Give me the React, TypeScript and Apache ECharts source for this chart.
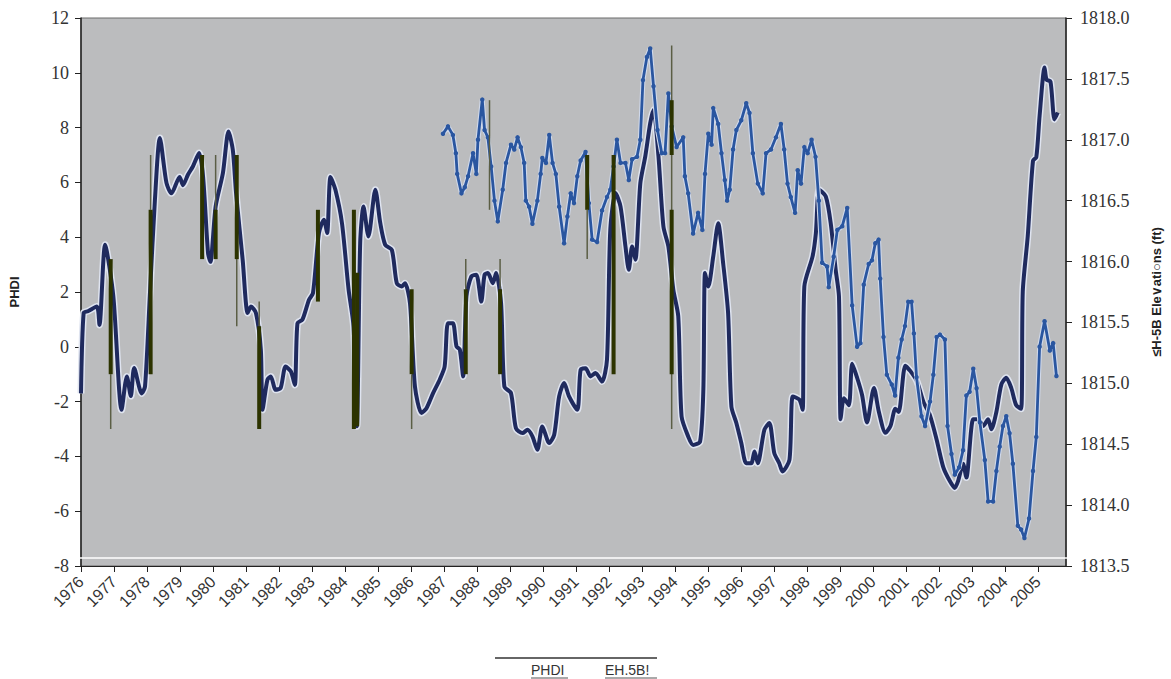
import React, { useEffect, useRef } from "react";
import * as echarts from "echarts";

// PHDI (left axis) — [fractional year, PHDI]
const phdiData: [number, number][] = [
  [1976.0, -1.7], [1976.08, 1.24], [1976.21, 1.3], [1976.48, 1.47], [1976.56, 0.8], [1976.73, 3.72],
  [1976.98, 1.84], [1977.23, -2.3], [1977.39, -1.08], [1977.51, -1.8], [1977.61, -0.77], [1977.84, -1.7],
  [1977.94, -1.45], [1978.09, 1.97], [1978.24, 5.36], [1978.39, 7.62], [1978.59, 5.98], [1978.74, 5.6],
  [1978.99, 6.2], [1979.09, 5.9], [1979.24, 6.28], [1979.39, 6.58], [1979.58, 7.07], [1979.7, 6.2],
  [1979.85, 3.42], [1979.92, 3.1], [1980.08, 5.12], [1980.3, 6.34], [1980.47, 7.86], [1980.6, 7.19],
  [1980.7, 5.6], [1980.9, 3.17], [1981.05, 1.23], [1981.15, 1.47], [1981.3, 1.24], [1981.45, -0.1],
  [1981.5, -2.3], [1981.65, -1.2], [1981.75, -1.08], [1981.9, -1.57], [1982.05, -1.5], [1982.2, -0.72],
  [1982.36, -0.9], [1982.48, -1.39], [1982.56, 0.86], [1982.71, 0.99], [1982.91, 1.72], [1983.03, 1.96],
  [1983.21, 4.15], [1983.36, 4.64], [1983.46, 4.15], [1983.56, 6.2], [1983.71, 5.73], [1983.91, 4.5],
  [1984.11, 2.08], [1984.26, 0.74], [1984.36, -2.9], [1984.46, 3.78], [1984.56, 5.12], [1984.71, 4.03],
  [1984.92, 5.73], [1985.07, 4.51], [1985.22, 3.72], [1985.42, 3.54], [1985.57, 2.32], [1985.72, 2.2],
  [1985.82, 2.32], [1985.97, 1.59], [1986.12, -1.45], [1986.32, -2.42], [1986.47, -2.24], [1986.67, -1.69],
  [1986.87, -1.2], [1987.02, -0.72], [1987.12, 0.86], [1987.27, 0.86], [1987.38, 0.01], [1987.48, -0.1],
  [1987.58, -1.08], [1987.68, 1.84], [1987.83, 2.57], [1987.98, 2.63], [1988.13, 1.65], [1988.23, 2.63],
  [1988.33, 2.69], [1988.48, 2.32], [1988.58, 2.69], [1988.73, 1.59], [1988.83, -1.45], [1989.03, -1.69],
  [1989.18, -2.97], [1989.38, -3.15], [1989.53, -3.03], [1989.68, -3.27], [1989.83, -3.76], [1989.98, -2.91],
  [1990.19, -3.51], [1990.34, -3.21], [1990.49, -1.81], [1990.64, -1.32], [1990.79, -1.81], [1991.04, -2.3],
  [1991.14, -0.84], [1991.29, -0.78], [1991.44, -1.08], [1991.59, -0.96], [1991.79, -1.27], [1991.94, -0.47],
  [1992.04, 4.27], [1992.2, 5.61], [1992.35, 5.12], [1992.5, 3.66], [1992.6, 2.81], [1992.7, 3.66],
  [1992.8, 3.18], [1992.95, 5.97], [1993.1, 6.95], [1993.25, 8.16], [1993.35, 8.65], [1993.5, 6.95],
  [1993.65, 4.39], [1993.8, 3.66], [1993.95, 2.08], [1994.1, 1.11], [1994.2, -2.54], [1994.4, -3.27],
  [1994.55, -3.58], [1994.76, -3.46], [1994.86, -1.57], [1994.91, 2.69], [1995.01, 2.2], [1995.16, 3.3],
  [1995.31, 4.51], [1995.46, 3.05], [1995.61, 1.23], [1995.71, -2.18], [1995.86, -2.78], [1996.01, -3.51],
  [1996.16, -4.25], [1996.31, -4.25], [1996.41, -3.82], [1996.51, -4.25], [1996.71, -3.03], [1996.86, -2.78],
  [1997.01, -3.88], [1997.16, -4.25], [1997.26, -4.55], [1997.47, -4.12], [1997.57, -1.81], [1997.77, -1.93],
  [1997.87, -2.3], [1997.92, 2.2], [1998.17, 3.3], [1998.27, 4.15], [1998.37, 5.73], [1998.57, 5.49],
  [1998.72, 4.51], [1998.87, 2.81], [1998.97, 1.84], [1999.02, -2.64], [1999.12, -1.88], [1999.27, -2.13],
  [1999.37, -0.62], [1999.52, -1.13], [1999.67, -1.76], [1999.82, -2.76], [2000.03, -1.5], [2000.18, -2.38],
  [2000.38, -3.14], [2000.53, -2.89], [2000.68, -2.26], [2000.78, -2.38], [2000.98, -0.69], [2001.13, -0.88],
  [2001.33, -1.25], [2001.53, -2.01], [2001.73, -2.51], [2001.93, -3.39], [2002.13, -4.39], [2002.33, -4.9],
  [2002.48, -5.15], [2002.58, -4.9], [2002.73, -4.27], [2002.83, -4.77], [2003.04, -2.64], [2003.19, -2.64],
  [2003.34, -2.89], [2003.49, -2.64], [2003.59, -3.01], [2003.74, -2.38], [2003.89, -1.38], [2004.04, -1.13],
  [2004.19, -1.5], [2004.34, -2.13], [2004.49, -2.26], [2004.54, 2.02], [2004.69, 4.03], [2004.85, 6.79],
  [2004.95, 6.92], [2005.05, 8.43], [2005.2, 10.19], [2005.26, 9.75], [2005.38, 9.68], [2005.5, 8.3],
  [2005.6, 8.55],
];

// EH-5B elevation (right axis, ft) — [fractional year, elevation]
const elevData: [number, number][] = [
  [1986.97, 1817.05], [1987.12, 1817.11], [1987.27, 1817.04], [1987.36, 1816.89], [1987.4, 1816.72],
  [1987.53, 1816.56], [1987.63, 1816.61], [1987.73, 1816.7], [1987.88, 1816.89], [1987.98, 1816.72],
  [1988.03, 1817.0], [1988.16, 1817.33], [1988.23, 1817.08], [1988.33, 1817.02], [1988.43, 1816.78],
  [1988.53, 1816.5], [1988.63, 1816.33], [1988.78, 1816.59], [1988.88, 1816.81], [1989.03, 1816.96],
  [1989.13, 1816.92], [1989.23, 1817.02], [1989.33, 1816.94], [1989.43, 1816.81], [1989.48, 1816.5],
  [1989.58, 1816.45], [1989.68, 1816.31], [1989.83, 1816.5], [1989.93, 1816.72], [1989.98, 1816.85],
  [1990.09, 1816.81], [1990.19, 1817.04], [1990.29, 1816.81], [1990.39, 1816.72], [1990.49, 1816.45],
  [1990.64, 1816.15], [1990.74, 1816.37], [1990.84, 1816.56], [1990.94, 1816.48], [1991.04, 1816.7],
  [1991.14, 1816.83], [1991.29, 1816.9], [1991.39, 1816.48], [1991.49, 1816.18], [1991.64, 1816.16],
  [1991.79, 1816.42], [1991.94, 1816.53], [1992.04, 1816.59], [1992.14, 1816.78], [1992.24, 1817.0],
  [1992.35, 1816.81], [1992.5, 1816.81], [1992.6, 1816.67], [1992.7, 1816.84], [1992.85, 1816.86],
  [1992.95, 1817.0], [1993.03, 1817.49], [1993.15, 1817.68], [1993.25, 1817.75], [1993.35, 1817.44],
  [1993.47, 1817.08], [1993.6, 1816.89], [1993.7, 1816.89], [1993.8, 1817.38], [1993.9, 1817.11],
  [1994.05, 1816.94], [1994.25, 1817.02], [1994.3, 1816.7], [1994.4, 1816.56], [1994.55, 1816.23],
  [1994.7, 1816.4], [1994.83, 1816.26], [1994.91, 1816.72], [1995.01, 1817.05], [1995.11, 1816.96],
  [1995.16, 1817.26], [1995.31, 1817.13], [1995.41, 1816.89], [1995.51, 1816.67], [1995.58, 1816.5],
  [1995.66, 1816.59], [1995.76, 1816.92], [1995.86, 1817.08], [1996.01, 1817.16], [1996.16, 1817.3],
  [1996.26, 1817.22], [1996.36, 1816.89], [1996.51, 1816.64], [1996.66, 1816.56], [1996.76, 1816.89],
  [1996.91, 1816.92], [1997.06, 1817.02], [1997.21, 1817.13], [1997.31, 1816.92], [1997.41, 1816.64],
  [1997.51, 1816.53], [1997.64, 1816.4], [1997.72, 1816.75], [1997.82, 1816.64], [1997.92, 1816.94],
  [1998.02, 1816.89], [1998.14, 1817.0], [1998.26, 1816.86], [1998.36, 1816.5], [1998.46, 1815.99],
  [1998.61, 1815.96], [1998.66, 1815.79], [1998.81, 1816.04], [1998.92, 1816.26], [1999.07, 1816.29],
  [1999.22, 1816.44], [1999.37, 1815.64], [1999.52, 1815.3], [1999.62, 1815.33], [1999.72, 1815.81],
  [1999.87, 1815.98], [1999.97, 1816.01], [2000.07, 1816.15], [2000.17, 1816.18], [2000.22, 1815.86],
  [2000.32, 1815.38], [2000.42, 1815.07], [2000.57, 1814.99], [2000.67, 1814.9], [2000.77, 1815.21],
  [2000.87, 1815.36], [2000.97, 1815.47], [2001.07, 1815.67], [2001.17, 1815.67], [2001.24, 1815.41],
  [2001.32, 1815.05], [2001.47, 1814.73], [2001.58, 1814.65], [2001.73, 1814.85], [2001.83, 1815.07],
  [2001.93, 1815.38], [2002.03, 1815.4], [2002.18, 1815.36], [2002.26, 1814.65], [2002.38, 1814.42],
  [2002.48, 1814.25], [2002.61, 1814.31], [2002.73, 1814.45], [2002.83, 1814.9], [2002.93, 1814.93],
  [2003.04, 1815.12], [2003.14, 1814.96], [2003.24, 1814.68], [2003.39, 1814.37], [2003.49, 1814.03],
  [2003.64, 1814.03], [2003.74, 1814.28], [2003.84, 1814.48], [2003.94, 1814.65], [2004.04, 1814.73],
  [2004.14, 1814.59], [2004.24, 1814.34], [2004.39, 1813.83], [2004.49, 1813.8], [2004.59, 1813.73],
  [2004.73, 1813.89], [2004.85, 1814.28], [2004.95, 1814.56], [2005.05, 1815.3], [2005.2, 1815.51],
  [2005.36, 1815.27], [2005.46, 1815.33], [2005.56, 1815.06],
];

// Vertical event markers (PHDI scale) — [year, low, high]
const thinMarks: [number, number, number][] = [
  [1976.9, -3, -1], [1978.11, 5, 7], [1980.08, 5, 7], [1980.72, 0.75, 3.2], [1981.4, 0.75, 1.65],
  [1986.02, -3, -1], [1987.66, 2.1, 3.2], [1988.7, 2.1, 3.2], [1988.38, 5, 9], [1991.34, 3.2, 5],
  [1993.9, -3, 11],
];
const thickMarks: [number, number, number][] = [
  [1976.9, -1, 3.2], [1978.11, -1, 5], [1979.67, 3.2, 7], [1980.08, 3.2, 5], [1980.72, 3.2, 7],
  [1981.4, -3, 0.75], [1983.18, 1.65, 5], [1984.27, -3, 5], [1984.37, -2.9, 2.7], [1986.02, -1, 2.1],
  [1987.66, -1, 2.1], [1988.7, -1, 2.1], [1991.34, 5, 7], [1992.14, -1, 7], [1993.9, 7, 9], [1993.9, -1, 5],
];

const xMin = 1976;
const xMax = 2005.85;
const leftTicks = { min: -8, max: 12, interval: 2 };
const rightTicks = { min: 1813.5, max: 1818, interval: 0.5 };
const legendNames = ["PHDI", "EH.5B!"];
const leftTitle = "PHDI";
const rightTitle = "≤H-5B Ele∨ati○ns (ft)";

const GRID = { left: 79, right: 101, top: 18, bottom: 113 };
const W = 1171;
const H = 679;

function segRenderer(color: string, width: number) {
  return (params: any, api: any) => {
    const x = api.value(0);
    const p1 = api.coord([x, api.value(1)]);
    const p2 = api.coord([x, api.value(2)]);
    return {
      type: "line",
      shape: { x1: p1[0], y1: p1[1], x2: p2[0], y2: p2[1] },
      style: { stroke: color, lineWidth: width },
    };
  };
}

export default function App() {
  const ref = useRef<HTMLDivElement>(null);
  useEffect(() => {
    if (!ref.current) return;
    const chart = echarts.init(ref.current, null, { renderer: "svg" });
    const serif = "'Liberation Serif', 'Times New Roman', serif";
    const sans = "'Liberation Sans', Arial, sans-serif";
    const plotBottom = H - GRID.bottom;
    const plotRight = W - GRID.right;
    chart.setOption({
      animation: false,
      backgroundColor: "#ffffff",
      grid: {
        ...GRID,
        show: true,
        backgroundColor: "#bbbcbe",
        borderColor: "#6b6b6b",
        borderWidth: 1,
      },
      xAxis: {
        type: "value",
        min: xMin,
        max: xMax,
        interval: 1,
        splitLine: { show: false },
        axisLine: { onZero: false, lineStyle: { color: "#222", width: 1.2 } },
        axisTick: { show: true, length: 6, lineStyle: { color: "#222" } },
        axisLabel: {
          rotate: 45,
          margin: 13,
          color: "#333",
          fontFamily: sans,
          fontSize: 16,
          showMaxLabel: false,
          formatter: (v: number) => (Number.isInteger(v) ? String(v) : ""),
        },
      },
      yAxis: [
        {
          type: "value",
          ...leftTicks,
          position: "left",
          name: leftTitle,
          nameLocation: "middle",
          nameRotate: 90,
          nameGap: 60,
          nameTextStyle: { fontFamily: sans, fontWeight: "bold", fontSize: 13, color: "#222" },
          splitLine: { show: false },
          axisLine: { show: true, lineStyle: { color: "#222", width: 1.5 } },
          axisTick: { show: true, length: 6, lineStyle: { color: "#222" } },
          axisLabel: { color: "#333", fontFamily: serif, fontSize: 18, margin: 12 },
        },
        {
          type: "value",
          ...rightTicks,
          position: "right",
          name: rightTitle,
          nameLocation: "middle",
          nameRotate: 90,
          nameGap: 84,
          nameTextStyle: { fontFamily: sans, fontWeight: "bold", fontSize: 13, color: "#222" },
          splitLine: { show: false },
          axisLine: { show: true, lineStyle: { color: "#222", width: 1.5 } },
          axisTick: { show: true, length: 6, lineStyle: { color: "#222" } },
          axisLabel: {
            color: "#333",
            fontFamily: serif,
            fontSize: 18,
            margin: 14,
            formatter: (v: number) => v.toFixed(1),
          },
        },
      ],
      series: [
        {
          name: "PHDI halo",
          type: "line",
          yAxisIndex: 0,
          data: phdiData,
          showSymbol: false,
          smooth: 0.25,
          silent: true,
          lineStyle: { color: "#dfe4f0", width: 7 },
          z: 2,
        },
        {
          name: legendNames[0],
          type: "line",
          yAxisIndex: 0,
          data: phdiData,
          showSymbol: false,
          smooth: 0.25,
          lineStyle: { color: "#1f2a5e", width: 4 },
          z: 3,
        },
        {
          name: "EH halo",
          type: "line",
          yAxisIndex: 1,
          data: elevData,
          showSymbol: false,
          silent: true,
          lineStyle: { color: "#cfd8ea", width: 5 },
          z: 4,
        },
        {
          name: legendNames[1],
          type: "line",
          yAxisIndex: 1,
          data: elevData,
          symbol: "circle",
          symbolSize: 4.5,
          showSymbol: true,
          itemStyle: { color: "#2a56a0" },
          lineStyle: { color: "#2a56a0", width: 2.8 },
          z: 5,
        },
        {
          name: "thin marks",
          type: "custom",
          yAxisIndex: 0,
          data: thinMarks,
          encode: { x: 0, y: [1, 2] },
          renderItem: segRenderer("#5b5e45", 1.5),
          silent: true,
          z: 6,
        },
        {
          name: "thick marks",
          type: "custom",
          yAxisIndex: 0,
          data: thickMarks,
          encode: { x: 0, y: [1, 2] },
          renderItem: segRenderer("#2c3300", 4),
          silent: true,
          z: 7,
        },
      ],
      graphic: [
        {
          type: "line",
          shape: { x1: GRID.left + 1, y1: plotBottom - 8, x2: plotRight - 1, y2: plotBottom - 8 },
          style: { stroke: "#ffffff", lineWidth: 1.5 },
          silent: true,
          z: 10,
        },
        {
          type: "line",
          shape: { x1: 495, y1: 658, x2: 657, y2: 658 },
          style: { stroke: "#333", lineWidth: 1.5 },
        },
        {
          type: "text",
          x: 531,
          y: 663,
          style: { text: legendNames[0], fontFamily: sans, fontSize: 14, fill: "#333" },
        },
        {
          type: "line",
          shape: { x1: 531, y1: 678, x2: 568, y2: 678 },
          style: { stroke: "#555", lineWidth: 1 },
        },
        {
          type: "text",
          x: 605,
          y: 663,
          style: { text: legendNames[1], fontFamily: sans, fontSize: 14, fill: "#333" },
        },
        {
          type: "line",
          shape: { x1: 605, y1: 678, x2: 657, y2: 678 },
          style: { stroke: "#555", lineWidth: 1 },
        },
      ],
    });
    return () => chart.dispose();
  }, []);
  return (
    <div
      ref={ref}
      style={{ position: "fixed", left: 0, top: 0, width: W, height: H }}
    />
  );
}
